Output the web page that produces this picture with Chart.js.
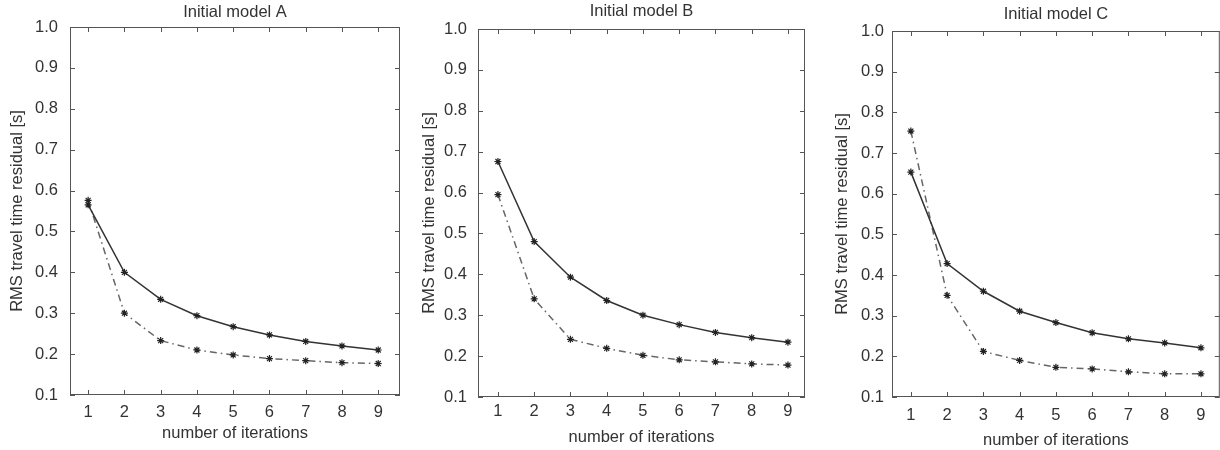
<!DOCTYPE html>
<html>
<head>
<meta charset="utf-8">
<script src="https://cdn.jsdelivr.net/npm/chart.js@4.4.1/dist/chart.umd.min.js"></script>
<style>
  html, body { margin: 0; padding: 0; background: #fff; overflow: hidden; width: 1220px; height: 450px; }
  .panel { position: absolute; top: 0; height: 450px; }
</style>
</head>
<body>
<div class="panel" style="left:0;width:410px"><canvas id="chartA"></canvas></div>
<div class="panel" style="left:410px;width:405px"><canvas id="chartB"></canvas></div>
<div class="panel" style="left:815px;width:410px"><canvas id="chartC"></canvas></div>
<script>
// data
const iterations = [1, 2, 3, 4, 5, 6, 7, 8, 9]
const yTickValues = [0.1, 0.2, 0.3, 0.4, 0.5, 0.6, 0.7, 0.8, 0.9, 1.0]

const solidA = [0.565, 0.400, 0.334, 0.294, 0.267, 0.247, 0.231, 0.220, 0.210]
const dashA  = [0.576, 0.300, 0.233, 0.210, 0.198, 0.189, 0.184, 0.179, 0.177]

const solidB = [0.676, 0.480, 0.393, 0.336, 0.300, 0.277, 0.258, 0.245, 0.234]
const dashB  = [0.595, 0.340, 0.241, 0.219, 0.202, 0.191, 0.186, 0.181, 0.178]

const solidC = [0.653, 0.428, 0.360, 0.311, 0.283, 0.258, 0.243, 0.233, 0.221]
const dashC  = [0.754, 0.350, 0.212, 0.190, 0.173, 0.169, 0.162, 0.157, 0.157]

const FONT = "'Liberation Sans', Arial, sans-serif"
const TEXT = '#333'
const FRAME = '#555'
const FS = 16.5

// box round the plot and gnuplot style ticks pointing inwards
const framePlugin = {
    id: 'frame',
    beforeDatasetsDraw(chart) {
        const {ctx, chartArea: a, scales: {x, y}} = chart
        ctx.save()
        ctx.strokeStyle = FRAME
        ctx.lineWidth = 1
        ctx.strokeRect(a.left + 0.5, a.top + 0.5, a.right - a.left - 1, a.bottom - a.top - 1)
        ctx.beginPath()
        iterations.forEach(v => {
            const px = Math.round(x.getPixelForValue(v)) + 0.5
            ctx.moveTo(px, a.bottom); ctx.lineTo(px, a.bottom - 5)
            ctx.moveTo(px, a.top); ctx.lineTo(px, a.top + 5)
        })
        yTickValues.forEach(v => {
            const py = Math.round(y.getPixelForValue(v)) + 0.5
            ctx.moveTo(a.left, py); ctx.lineTo(a.left + 5, py)
            ctx.moveTo(a.right, py); ctx.lineTo(a.right - 5, py)
        })
        ctx.stroke()
        ctx.restore()
    }
}

function makeChart(id, title, solid, dash, L) {
    return new Chart(document.getElementById(id), {
        type: 'line',
        data: {
            labels: iterations,
            datasets: [{
                data: iterations.map((v, i) => ({x: v, y: solid[i]})),
                borderColor: '#333',
                borderWidth: 1.5,
                pointStyle: 'star',
                pointRadius: 3.5,
                pointBorderWidth: 1.2,
                pointBorderColor: '#222',
                tension: 0
            }, {
                data: iterations.map((v, i) => ({x: v, y: dash[i]})),
                borderColor: '#666',
                borderWidth: 1.5,
                borderDash: [7, 4, 1.5, 4],
                pointStyle: 'star',
                pointRadius: 3.5,
                pointBorderWidth: 1.2,
                pointBorderColor: '#222',
                tension: 0
            }]
        },
        options: {
            responsive: true,
            maintainAspectRatio: false,
            animation: false,
            layout: { padding: { left: 0, right: L.padRight, top: 0, bottom: 0 } },
            plugins: {
                legend: { display: false },
                tooltip: { enabled: false },
                title: {
                    display: true,
                    text: title,
                    fullSize: false,
                    color: TEXT,
                    font: { family: FONT, size: FS, weight: 'normal' },
                    padding: { top: L.titleTop, bottom: L.titleBottom }
                }
            },
            scales: {
                x: {
                    type: 'linear',
                    min: L.xMin,
                    max: L.xMax,
                    afterBuildTicks: s => { s.ticks = iterations.map(v => ({value: v})) },
                    afterFit: s => { s.height = L.xHeight },
                    grid: { display: false, drawTicks: false },
                    border: { display: false },
                    ticks: {
                        color: TEXT,
                        padding: L.xTickPad,
                        maxRotation: 0,
                        font: { family: FONT, size: FS }
                    },
                    title: {
                        display: true,
                        text: 'number of iterations',
                        color: TEXT,
                        font: { family: FONT, size: FS },
                        padding: { top: 0, bottom: L.xTitlePad }
                    }
                },
                y: {
                    min: 0.1,
                    max: 1.0,
                    afterBuildTicks: s => { s.ticks = yTickValues.map(v => ({value: v})) },
                    afterFit: s => { s.width = L.yWidth },
                    grid: { display: false, drawTicks: false },
                    border: { display: false },
                    ticks: {
                        color: TEXT,
                        padding: L.yTickPad,
                        font: { family: FONT, size: FS },
                        callback: v => v.toFixed(1)
                    },
                    title: {
                        display: true,
                        text: 'RMS travel time residual [s]',
                        color: TEXT,
                        font: { family: FONT, size: FS },
                        padding: { top: L.yTitlePad, bottom: 0 }
                    }
                }
            }
        },
        plugins: [framePlugin]
    })
}

makeChart('chartA', 'Initial model A', solidA, dashA, {
    xMin: 0.5, xMax: 9.6, padRight: 10, yWidth: 70, yTickPad: 12, yTitlePad: 8,
    titleTop: 3, titleBottom: 4.2, xHeight: 55, xTickPad: 8, xTitlePad: 7
})
makeChart('chartB', 'Initial model B', solidB, dashB, {
    xMin: 0.45, xMax: 9.47, padRight: 10, yWidth: 68, yTickPad: 11, yTitlePad: 10,
    titleTop: 2, titleBottom: 7.2, xHeight: 53, xTickPad: 5, xTitlePad: 3
})
makeChart('chartC', 'Initial model C', solidC, dashC, {
    xMin: 0.48, xMax: 9.52, padRight: 3, yWidth: 77, yTickPad: 8, yTitlePad: 18,
    titleTop: 5, titleBottom: 6.2, xHeight: 53, xTickPad: 9, xTitlePad: 0
})
</script>
</body>
</html>
